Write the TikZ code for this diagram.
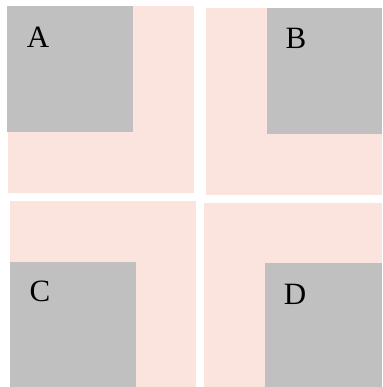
\documentclass[tikz,border=0pt]{standalone}
\usepackage{fontspec}
\setmainfont{Liberation Serif}
\definecolor{pinkbg}{RGB}{252,228,222}
\definecolor{graysq}{RGB}{192,192,192}
\begin{document}
\begin{tikzpicture}[x=1pt,y=-1pt,
  pinkbox/.style={fill=pinkbg,draw=none},
  graybox/.style={fill=graysq,draw=none},
  lbl/.style={font=\fontsize{31}{34}\selectfont,inner sep=0pt,anchor=center}]
\useasboundingbox (0,0) rectangle (382,387);
\fill[white] (0,0) rectangle (382,387);
% A
\path[pinkbox] (8,6) rectangle (194,193);
\path[graybox] (7,6) rectangle (133,132);
% B
\path[pinkbox] (206,8) rectangle (382,195);
\path[graybox] (267,8) rectangle (382,134);
% C
\path[pinkbox] (10,201) rectangle (196,387);
\path[graybox] (10,262) rectangle (136,387);
% D
\path[pinkbox] (204,203) rectangle (382,387);
\path[graybox] (265,263) rectangle (382,387);
\node[lbl] (la) at (38,37) {A};
\node[lbl] (lb) at (296,38) {B};
\node[lbl] (lc) at (40,291) {C};
\node[lbl] (ld) at (295,294) {D};
\end{tikzpicture}
\end{document}
